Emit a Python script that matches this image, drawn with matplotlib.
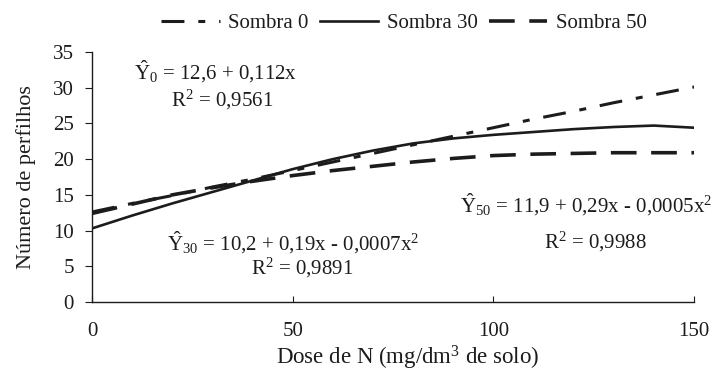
import matplotlib
matplotlib.use("Agg")
import matplotlib.pyplot as plt

# values
dose = [0, 10, 20, 30, 40, 50, 60, 70, 80, 90, 100, 110, 120, 130, 140, 150]
sombra0 = [12.6, 13.8, 14.9, 16.1, 17.2, 18.4, 19.6, 20.8, 22.0, 23.2, 24.4, 25.6, 26.7, 27.9, 29.0, 30.1]
sombra30 = [10.3, 12.1, 13.8, 15.4, 17.0, 18.6, 20.0, 21.2, 22.2, 22.9, 23.4, 23.8, 24.2, 24.5, 24.7, 24.4]
sombra50 = [12.4, 13.7, 15.0, 16.0, 16.9, 17.7, 18.4, 19.0, 19.6, 20.1, 20.5, 20.7, 20.8, 20.9, 20.9, 20.9]
labels = ["Sombra 0", "Sombra 30", "Sombra 50"]
xticks = [0, 50, 100, 150]
yticks = [0, 5, 10, 15, 20, 25, 30, 35]

plt.rcParams['font.family'] = ['Liberation Serif', 'DejaVu Serif']
plt.rcParams['mathtext.fontset'] = 'custom'
plt.rcParams['mathtext.rm'] = 'Liberation Serif'
plt.rcParams['mathtext.it'] = 'Liberation Serif:italic'
plt.rcParams['lines.scale_dashes'] = False

ink = '#1c1c1c'
fig = plt.figure(figsize=(7.17, 3.72), dpi=100)
ax = fig.add_axes([92/717, 1 - 302/372, (694 - 92)/717, (302 - 52)/372])

ax.plot(dose, sombra0, color=ink, lw=2.2, dashes=(16.5, 10, 5, 10), label=labels[0])
ax.plot(dose, sombra30, color=ink, lw=1.9, label=labels[1])
ax.plot(dose, sombra50, color=ink, lw=2.6, dashes=(18.5, 10.5), label=labels[2])

ax.set_xlim(0, 150)
ax.set_ylim(0, 35)
ax.set_xticks(xticks)
ax.set_yticks(yticks)
ax.spines['top'].set_visible(False)
ax.spines['right'].set_visible(False)
for s in ('left', 'bottom'):
    ax.spines[s].set_color(ink)
    ax.spines[s].set_linewidth(1.0)
ax.tick_params(axis='x', direction='in', length=4, pad=14.5, labelsize=15, colors=ink)
ax.tick_params(axis='y', direction='out', length=5, pad=8, labelsize=15, colors=ink)

ax.set_xlabel('Dose de N (mg/dm$^3$ de solo)', fontsize=16.5, color=ink, va='center')
ax.xaxis.set_label_coords(0.525, -0.222)
ax.set_ylabel('Número de perfilhos', fontsize=16, color=ink, labelpad=12)

kw = dict(fontsize=15, color=ink, ha='center', va='center', clip_on=False)
ax.text(30.9, 32.2, r'$\hat{\mathrm{Y}}_{0}$ = 12,6 + 0,112x', **kw)
ax.text(32.4, 28.3, r'R$^{2}$ = 0,9561', **kw)
ax.text(50.2, 8.3, r'$\hat{\mathrm{Y}}_{30}$ = 10,2 + 0,19x - 0,0007x$^{2}$', **kw)
ax.text(52.3, 4.8, r'R$^{2}$ = 0,9891', **kw)
ax.text(123.1, 13.6, r'$\hat{\mathrm{Y}}_{50}$ = 11,9 + 0,29x - 0,0005x$^{2}$', **kw)
ax.text(125.3, 8.4, r'R$^{2}$ = 0,9988', **kw)

fig.legend(loc='center', bbox_to_anchor=(404/717, 1 - 23/372), ncol=3, frameon=False,
           fontsize=15, handlelength=2.8, handletextpad=0.4, columnspacing=0.55,
           labelcolor=ink)

fig.savefig('out.png', dpi=100, facecolor='white')
